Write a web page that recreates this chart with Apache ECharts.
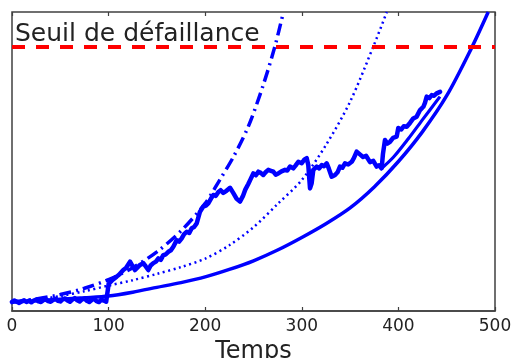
<!DOCTYPE html>
<html>
<head>
<meta charset="utf-8">
<script src="https://cdn.jsdelivr.net/npm/echarts@6/dist/echarts.min.js"></script>
<style>
  html, body { margin: 0; padding: 0; background: #fff; }
  #chart { width: 513px; height: 358px; }
</style>
</head>
<body>
<div id="chart"></div>
<script>
// Time axis ticks
const xTicks = [0, 100, 200, 300, 400, 500];

// Failure threshold level (arbitrary degradation units, 0..100)
const threshold = 88.3;
const thresholdLabel = 'Seuil de défaillance';

// Mean degradation curve (solid)
const meanCurve = [
  [0, 3.0], [25, 3.4], [50, 3.9], [75, 4.4], [100, 5.0], [125, 6.3], [150, 7.9],
  [175, 9.5], [200, 11.4], [225, 13.9], [250, 16.8], [275, 20.4], [300, 24.6],
  [325, 29.2], [350, 34.5], [375, 41.5], [400, 50.0], [425, 60.0], [450, 72.0],
  [475, 87.5], [493, 100]
];

// Dotted prediction curve
const dottedCurve = [
  [0, 3.0], [25, 3.8], [50, 5.0], [75, 6.6], [100, 8.5], [125, 10.3],
  [150, 12.4], [175, 14.7], [200, 17.5], [225, 22.0], [250, 28.0],
  [275, 35.8], [300, 43.8], [325, 55.5], [350, 70.0], [375, 89.2], [388, 100]
];

// Dash-dot prediction curve
const dashDotCurve = [
  [0, 3.0], [25, 4.0], [50, 5.5], [75, 7.6], [100, 10.5], [125, 14.5],
  [150, 19.8], [175, 26.8], [200, 36.0], [215, 43.8], [230, 52.0],
  [245, 62.0], [260, 75.5], [272, 88.3], [281, 100]
];

// Observed degradation path
const observedPath = [
  [0, 3.0], [2.5, 3.5], [5, 3.1], [7.5, 2.7], [10, 3.2], [12.5, 3.6], [15, 3.0],
  [17.5, 3.4], [20, 2.9], [22.5, 3.5], [25, 3.8], [27.5, 3.2], [30, 3.0],
  [32.5, 3.6], [35, 3.9], [37.5, 3.3], [40, 3.1], [42.5, 3.7], [45, 4.1],
  [47.5, 3.4], [50, 3.2], [52.5, 3.9], [55, 4.2], [57.5, 3.5], [60, 3.1],
  [62.5, 3.8], [65, 4.3], [67.5, 3.6], [70, 3.2], [72.5, 3.9], [75, 4.2],
  [77.5, 3.4], [80, 3.0], [82.5, 3.7], [85, 4.1], [87.5, 3.3], [90, 3.0],
  [92.5, 3.8], [95, 3.5], [97.5, 3.1], [99.5, 3.4],
  [100, 9.0], [101.4, 9.3], [104, 10.4], [106, 9.9], [108.4, 11.5], [111, 12.2],
  [113, 11.8], [115.2, 13.7], [118, 14.4], [120, 14.0], [122.2, 16.5],
  [124.5, 15.2], [127.3, 13.7], [130, 14.6], [132.5, 15.4], [135.9, 16.0],
  [138.5, 14.9], [141.1, 13.7], [143.5, 15.2], [146.3, 16.0], [149, 16.5],
  [151.5, 17.6], [154, 17.1], [156.6, 18.7], [159, 18.9], [161.8, 19.8],
  [164.5, 20.3], [167, 21.5], [170.5, 23.7], [173, 23.2], [175.7, 24.3],
  [178, 25.6], [180.8, 26.5], [183.5, 26.1], [186, 27.7], [188.5, 28.1],
  [191.2, 29.3], [194.6, 33.2], [196.5, 33.6], [198, 34.9], [200.5, 35.2],
  [203.2, 36.0], [206, 37.6], [208.4, 38.8], [211, 38.5], [213.6, 39.8],
  [216, 40.4], [218.7, 39.5], [222, 40.2], [225.7, 41.2], [229, 39.5],
  [232.6, 37.5], [236, 36.6], [239, 38.4], [241.5, 40.6], [244.6, 42.5],
  [247, 44.1], [249.8, 46.0], [252.5, 45.4], [255, 46.6], [257.5, 46.2],
  [260.1, 45.5], [262.5, 46.4], [265.3, 47.2], [268, 46.9], [270.5, 46.6],
  [273, 45.6], [275.7, 46.0], [279, 46.7], [282.6, 47.2], [285, 47.0],
  [287.8, 48.3], [291.2, 47.7], [293.5, 48.6], [296.4, 49.9], [299.9, 49.4],
  [302.5, 50.6], [305.1, 51.1], [306.7, 48.8], [308.5, 41.0], [310.2, 42.7],
  [311.9, 47.2], [315.4, 48.3], [318, 47.7], [320.6, 48.8], [323, 48.4],
  [325.8, 49.4], [328, 47.6], [330.9, 44.9], [334.4, 45.5], [337, 46.4],
  [339.5, 48.3], [342, 47.9], [344.7, 49.4], [348, 49.0], [351.7, 49.9],
  [354, 51.2], [356.8, 53.3], [358.2, 53.2], [360.5, 52.3], [363.4, 51.5],
  [366.5, 51.9], [370.6, 49.8], [374, 50.2], [377.5, 48.3], [380, 48.7],
  [382.7, 47.8], [384, 52.5], [386.1, 57.2], [388.5, 56.0], [391.3, 56.6],
  [394.5, 57.9], [398.2, 58.3], [399.9, 61.2], [403, 60.7], [405.5, 61.8],
  [408.6, 61.6], [412, 62.9], [415.4, 64.4], [418.9, 65.0], [422.4, 67.2],
  [425.8, 68.3], [427.5, 69.6], [429.3, 71.7], [432, 71.2], [434.5, 72.2],
  [437, 72.0], [439.6, 72.8], [443.1, 73.3]
];

// Smoothed trend over the last part of the path
const recentTrend = [
  [381, 47.2], [395, 51.5], [410, 57.5], [425, 64.0], [443, 71.7]
];

const BLUE = '#0000ff';
const chart = echarts.init(document.getElementById('chart'), null, { renderer: 'canvas' });

chart.setOption({
  animation: false,
  backgroundColor: '#fff',
  grid: { left: 12, right: 18, top: 12, bottom: 47, show: true,
          outerBoundsMode: 'none', containLabel: false,
          borderColor: '#404040', borderWidth: 1.5, backgroundColor: 'transparent' },
  xAxis: [
    {
      type: 'value', min: xTicks[0], max: xTicks[xTicks.length - 1], interval: 100,
      position: 'bottom',
      name: 'Temps', nameLocation: 'middle', nameGap: 21,
      nameTextStyle: { fontFamily: 'DejaVu Sans', fontSize: 24, color: '#222' },
      axisLine: { show: true, lineStyle: { color: '#404040', width: 1.5 } },
      axisTick: { show: true, inside: true, length: 4, lineStyle: { color: '#404040', width: 1.2 } },
      axisLabel: { fontFamily: 'DejaVu Sans', fontSize: 17, color: '#222', margin: 7 },
      splitLine: { show: false }
    },
    {
      type: 'value', min: xTicks[0], max: xTicks[xTicks.length - 1], interval: 100,
      position: 'top',
      axisLine: { show: false },
      axisTick: { show: true, inside: true, length: 4, lineStyle: { color: '#404040', width: 1.2 } },
      axisLabel: { show: false },
      splitLine: { show: false }
    }
  ],
  yAxis: {
    type: 'value', min: 0, max: 100,
    axisLine: { show: false }, axisTick: { show: false },
    axisLabel: { show: false }, splitLine: { show: false }
  },
  series: [
    {
      name: 'seuil', type: 'line', data: [], z: 1,
      markLine: {
        silent: true, symbol: 'none', animation: false,
        label: { show: false },
        lineStyle: { color: '#ff0000', width: 4, type: [13, 11] },
        data: [{ yAxis: threshold }]
      }
    },
    {
      name: 'moyenne', type: 'line', data: meanCurve, smooth: 0.3,
      showSymbol: false, clip: true, z: 3,
      lineStyle: { color: BLUE, width: 3.5 }
    },
    {
      name: 'pointillé', type: 'line', data: dottedCurve, smooth: 0.3,
      showSymbol: false, clip: true, z: 3,
      lineStyle: { color: BLUE, width: 2.5, type: [2, 3.5] }
    },
    {
      name: 'mixte', type: 'line', data: dashDotCurve, smooth: 0.3,
      showSymbol: false, clip: true, z: 3,
      lineStyle: { color: BLUE, width: 3.5, type: [12, 5, 2, 5] }
    },
    {
      name: 'trajectoire', type: 'line', data: observedPath,
      showSymbol: false, clip: true, z: 4,
      lineStyle: { color: BLUE, width: 4.5, join: 'round', cap: 'round' }
    },
    {
      name: 'tendance', type: 'line', data: recentTrend, smooth: 0.3,
      showSymbol: false, clip: true, z: 4,
      lineStyle: { color: BLUE, width: 3.2 }
    }
  ],
  graphic: [
    {
      type: 'text', left: 15, top: 22, z: 10,
      style: { text: thresholdLabel, fontFamily: 'DejaVu Sans', fontSize: 25, fill: '#222' }
    }
  ]
});
</script>
</body>
</html>
